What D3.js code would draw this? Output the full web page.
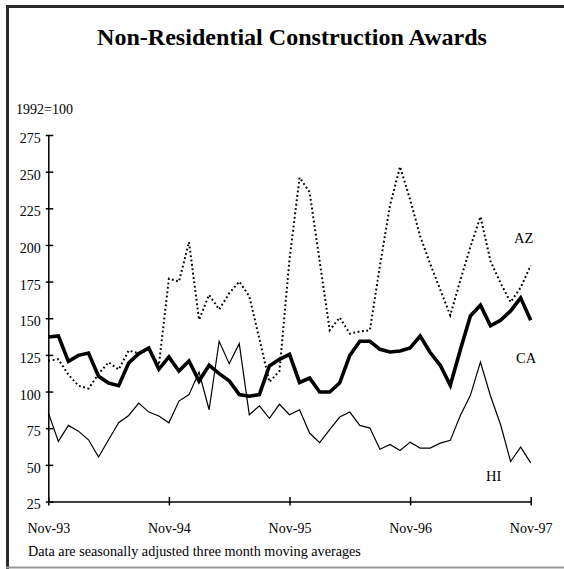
<!DOCTYPE html>
<html>
<head>
<meta charset="utf-8">
<script src="https://cdn.jsdelivr.net/npm/d3@7"></script>
<style>
  html, body { margin: 0; padding: 0; background: #fff; }
  svg { display: block; }
  text { font-family: "Liberation Serif", "Times New Roman", serif; fill: #000; }
</style>
</head>
<body>
<svg id="chart" width="564" height="569"></svg>
<script>
// ---- Data (monthly, Nov-93 .. Nov-97, index 1992=100) ----
const months = d3.range(49); // 0 = Nov-93, 48 = Nov-97
const xTickIdx = [0, 12, 24, 36, 48];
const xTickLabels = ["Nov-93", "Nov-94", "Nov-95", "Nov-96", "Nov-97"];
const yTicks = [25, 50, 75, 100, 125, 150, 175, 200, 225, 250, 275];

const azValues = [121, 122, 111.5, 104, 102, 112, 120, 115, 128, 126, 128.5, 118,
  177, 175, 202, 149, 166, 156, 167, 175, 165, 136, 106.5, 114,
  190, 246, 236, 189, 141.8, 150.5, 139.5, 141, 141.8, 186, 227, 253.4,
  231, 206, 187, 169.5, 152, 176, 198.7, 219.3, 189, 174, 161, 171, 186];

const caValues = [137.2, 138, 120.6, 124.7, 126.3, 110.4, 105.8, 104, 119.5, 125.9, 129.7, 115.2,
  123.6, 114, 120.8, 107.2, 118, 112.2, 107.4, 97.9, 96.8, 97.9, 117.5, 122,
  125.4, 106.2, 109.2, 99.7, 99.7, 106, 124.7, 134.3, 134.3, 128.8, 127, 127.7,
  129.7, 137.9, 126.6, 117.9, 104.3, 128.5, 151.6, 158.9, 144.8, 148.6, 155, 163.9, 148.6];

const hiValues = [85.6, 66, 76.9, 73, 67.1, 55.3, 67.1, 78.7, 83.7, 92.1, 86, 83.3,
  78.7, 93.5, 97.9, 113.3, 87.6, 134.3, 119, 132.7, 84.2, 90.2, 81.7, 91.3,
  84.2, 87.6, 71.7, 65.1, 74, 82.6, 86, 76.9, 75.1, 60.6, 63.9, 59.8,
  65.5, 61.4, 61.4, 64.8, 66.7, 83.7, 97.4, 120.1, 97, 77.5, 52.3, 62.1, 51.3];

const seriesNames = ["AZ", "CA", "HI"];

// ---- Drawing ----
const svg = d3.select("#chart");

// frame
svg.append("line").attr("x1", 7.5).attr("y1", 5).attr("x2", 7.5).attr("y2", 569)
  .attr("stroke", "#2a2a2a").attr("stroke-width", 3);
svg.append("line").attr("x1", 6).attr("y1", 6.5).attr("x2", 564).attr("y2", 6.5)
  .attr("stroke", "#2a2a2a").attr("stroke-width", 3);
svg.append("line").attr("x1", 6).attr("y1", 567.5).attr("x2", 564).attr("y2", 567.5)
  .attr("stroke", "#999").attr("stroke-width", 2);

const x = d3.scaleLinear().domain([0, 48]).range([48.3, 530.7]);
const y = d3.scaleLinear().domain([25, 275]).range([501.5, 135]);

// title
svg.append("text")
  .attr("x", 292).attr("y", 44.5)
  .attr("text-anchor", "middle")
  .attr("font-size", 23).attr("font-weight", "bold")
  .attr("fill", "#222")
  .attr("textLength", 390).attr("lengthAdjust", "spacingAndGlyphs")
  .text("Non-Residential Construction Awards");

svg.append("text").attr("x", 16).attr("y", 114).attr("font-size", 14)
  .text("1992=100");

// y axis
const yAxis = svg.append("g").attr("transform", `translate(${x(0)},0)`)
  .call(d3.axisLeft(y).tickValues(yTicks).tickSize(0).tickSizeOuter(0));
yAxis.select(".domain").attr("stroke", "#000").attr("stroke-width", 1.5);
yAxis.selectAll(".tick line").attr("x1", -2.5).attr("x2", 5)
  .attr("stroke", "#000").attr("stroke-width", 1.5);
yAxis.selectAll(".tick text")
  .attr("x", -7.5).attr("dy", "0.32em").attr("y", 3)
  .attr("font-size", 14).attr("font-family", "Liberation Serif, Times New Roman, serif")
  .attr("fill", "#000").attr("text-anchor", "end");

// x axis
const xAxis = svg.append("g").attr("transform", `translate(0,${y(25)})`)
  .call(d3.axisBottom(x).tickValues(xTickIdx)
    .tickFormat((d, i) => xTickLabels[i]).tickSize(0).tickSizeOuter(0));
xAxis.select(".domain").attr("stroke", "#000").attr("stroke-width", 1.5);
xAxis.selectAll(".tick line").attr("y1", -4.5).attr("y2", 4)
  .attr("stroke", "#000").attr("stroke-width", 1.5);
xAxis.selectAll(".tick text")
  .attr("y", 31.5).attr("dy", 0)
  .attr("font-size", 14).attr("font-family", "Liberation Serif, Times New Roman, serif")
  .attr("fill", "#000");

// lines
const line = d3.line().x((d, i) => x(months[i])).y(d => y(d));

svg.append("path").datum(hiValues).attr("d", line)
  .attr("fill", "none").attr("stroke", "#000").attr("stroke-width", 1.2)
  .attr("stroke-linejoin", "miter");

svg.append("path").datum(azValues).attr("d", line)
  .attr("fill", "none").attr("stroke", "#000").attr("stroke-width", 2)
  .attr("stroke-dasharray", "1.8,2.6");

svg.append("path").datum(caValues).attr("d", line)
  .attr("fill", "none").attr("stroke", "#000").attr("stroke-width", 3.6)
  .attr("stroke-linejoin", "miter");

// series labels
const labelPos = [[514, 243], [516, 363], [486, 481]];
seriesNames.forEach((n, i) => {
  svg.append("text").attr("x", labelPos[i][0]).attr("y", labelPos[i][1])
    .attr("font-size", 14.5).attr("fill", "#222").text(n);
});

// footnote
svg.append("text").attr("x", 28).attr("y", 556).attr("font-size", 14.2)
  .attr("fill", "#111")
  .text("Data are seasonally adjusted three month moving averages");
</script>
</body>
</html>
